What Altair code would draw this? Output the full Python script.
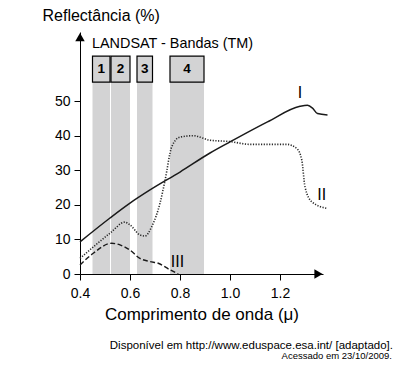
import altair as alt
import pandas as pd

# Curve I (solid)
x_I = [0.40, 0.52, 0.60, 0.68, 0.80, 0.92, 1.00, 1.15, 1.28, 1.31, 1.33, 1.35, 1.39]
y_I = [9.3, 16.2, 20.5, 24.3, 29.5, 35.0, 38.2, 44.0, 48.5, 48.8, 48.0, 46.4, 46.0]
# Curve II (dotted)
x_II = [0.40, 0.52, 0.58, 0.60, 0.64, 0.66, 0.687, 0.72, 0.74, 0.767, 0.80, 0.853,
        0.92, 1.00, 1.08, 1.227, 1.267, 1.287, 1.30, 1.327, 1.387]
y_II = [4.5, 11.8, 15.0, 14.2, 11.3, 11.0, 13.7, 20.5, 27.0, 36.8, 39.6, 40.0,
        38.7, 38.3, 37.5, 37.5, 36.3, 33.0, 25.2, 20.9, 19.0]
# Curve III (dashed)
x_III = [0.40, 0.453, 0.527, 0.56, 0.60, 0.64, 0.68, 0.713, 0.76, 0.793]
y_III = [2.6, 6.0, 8.9, 8.4, 6.9, 4.5, 3.6, 3.1, 1.2, 0.0]

# LANDSAT TM bands
band_names = ["1", "2", "3", "4"]
band_start = [0.45, 0.524, 0.628, 0.76]
band_end = [0.52, 0.60, 0.69, 0.896]
band_top = 55.5
box_top = 63.0

# curve labels
lab_text = ["I", "II", "III"]
lab_x = [1.28, 1.367, 0.79]
lab_y = [52.3, 22.8, 3.5]

x_ticks = [0.4, 0.6, 0.8, 1.0, 1.2]
y_ticks = [0, 10, 20, 30, 40, 50]
x_domain = [0.4, 1.372]
y_domain = [0, 70]

FONT = "Liberation Sans"

xs = alt.Scale(domain=x_domain, nice=False, zero=False)
ys = alt.Scale(domain=y_domain, nice=False, zero=False)

bands = pd.DataFrame({"name": band_names, "x0": band_start, "x1": band_end,
                      "y0": [0] * 4, "y1": [band_top] * 4, "y2": [box_top] * 4})
bands["xm"] = (bands["x0"] + bands["x1"]) / 2
bands["ym"] = (band_top + box_top) / 2

base_x = alt.X("x:Q", scale=xs,
               axis=alt.Axis(values=x_ticks, format=".1f", tickSize=6, labelPadding=6,
                             labelFlush=False, labelOverlap=False,
                             grid=False, domainColor="black", tickColor="black",
                             labelColor="black", labelFont=FONT, labelFontSize=14,
                             title="Comprimento de onda (μ)", titleFont=FONT,
                             titleFontSize=17, titleFontWeight="normal", titleColor="black",
                             titlePadding=6))
base_y = alt.Y("y:Q", scale=ys,
               axis=alt.Axis(values=y_ticks, tickSize=6, labelPadding=4, grid=False,
                             labelFlush=False, labelOverlap=False,
                             domainColor="black", tickColor="black", labelColor="black",
                             labelFont=FONT, labelFontSize=14,
                             title="Reflectância (%)", titleFont=FONT, titleFontSize=16,
                             titleFontWeight="normal", titleColor="black", titleAngle=0,
                             titleAlign="left", titleBaseline="middle",
                             titleX=-38, titleY=-17))

gray = alt.Chart(bands).mark_rect(color="#d3d3d4").encode(
    x=base_x, x2="x1:Q", y=base_y, y2="y1:Q"
).transform_calculate(x="datum.x0", y="datum.y0")

boxes = alt.Chart(bands).mark_rect(fill="#d3d3d4", stroke="black", strokeWidth=1.2).encode(
    x=alt.X("x0:Q", scale=xs), x2="x1:Q", y=alt.Y("y1:Q", scale=ys), y2="y2:Q")

box_text = alt.Chart(bands).mark_text(font=FONT, fontSize=13.5, fontWeight="bold",
                                      color="black", baseline="middle").encode(
    x=alt.X("xm:Q", scale=xs), y=alt.Y("ym:Q", scale=ys), text="name:N")

def curve(xv, yv, **kw):
    df = pd.DataFrame({"x": xv, "y": yv})
    return alt.Chart(df).mark_line(interpolate="monotone", clip=False, **kw).encode(
        x=alt.X("x:Q", scale=xs), y=alt.Y("y:Q", scale=ys))

c1 = curve(x_I, y_I, color="#1a1a1a", strokeWidth=1.5)
c2 = curve(x_II, y_II, color="#2a2a2a", strokeWidth=1.6, strokeDash=[1.2, 1.5])
c3 = curve(x_III, y_III, color="#1a1a1a", strokeWidth=1.4, strokeDash=[5, 2.5])

labels = alt.Chart(pd.DataFrame({"t": lab_text, "x": lab_x, "y": lab_y})).mark_text(
    font=FONT, fontSize=16, color="black", baseline="middle").encode(
    x=alt.X("x:Q", scale=xs), y=alt.Y("y:Q", scale=ys), text="t:N")

arrow_x = alt.Chart(pd.DataFrame({"x": [1.354], "y": [0]})).mark_point(
    shape="triangle-right", filled=True, color="black", size=90, opacity=1, clip=False).encode(
    x=alt.X("x:Q", scale=xs), y=alt.Y("y:Q", scale=ys))
arrow_y = alt.Chart(pd.DataFrame({"x": [0.4], "y": [68.5]})).mark_point(
    shape="triangle-up", filled=True, color="black", size=90, opacity=1, clip=False).encode(
    x=alt.X("x:Q", scale=xs), y=alt.Y("y:Q", scale=ys))

title_txt = alt.Chart(pd.DataFrame({"t": ["LANDSAT - Bandas (TM)"], "x": [0.448], "y": [66.5]})).mark_text(
    font=FONT, fontSize=14.4, color="black", align="left", baseline="middle").encode(
    x=alt.X("x:Q", scale=xs), y=alt.Y("y:Q", scale=ys), text="t:N")

foot1 = alt.Chart(pd.DataFrame({"t": ["Disponível em http://www.eduspace.esa.int/ [adaptado]."]})).mark_text(
    font=FONT, fontSize=11.5, color="black", align="right", baseline="alphabetic").encode(
    x=alt.value(313), y=alt.value(317), text="t:N")
foot2 = alt.Chart(pd.DataFrame({"t": ["Acessado em 23/10/2009."]})).mark_text(
    font=FONT, fontSize=9.5, color="black", align="right", baseline="alphabetic").encode(
    x=alt.value(312), y=alt.value(326.5), text="t:N")

chart = alt.layer(gray, boxes, box_text, c2, c3, c1, labels, arrow_x, arrow_y,
                  title_txt, foot1, foot2).properties(
    width=243, height=242,
    autosize=alt.AutoSizeParams(type="none"),
    padding={"left": 72, "top": 24, "right": 71, "bottom": 86},
    background="white",
).configure_view(stroke=None)

chart.save("out.html", embed_options={"renderer": "svg", "actions": False})
